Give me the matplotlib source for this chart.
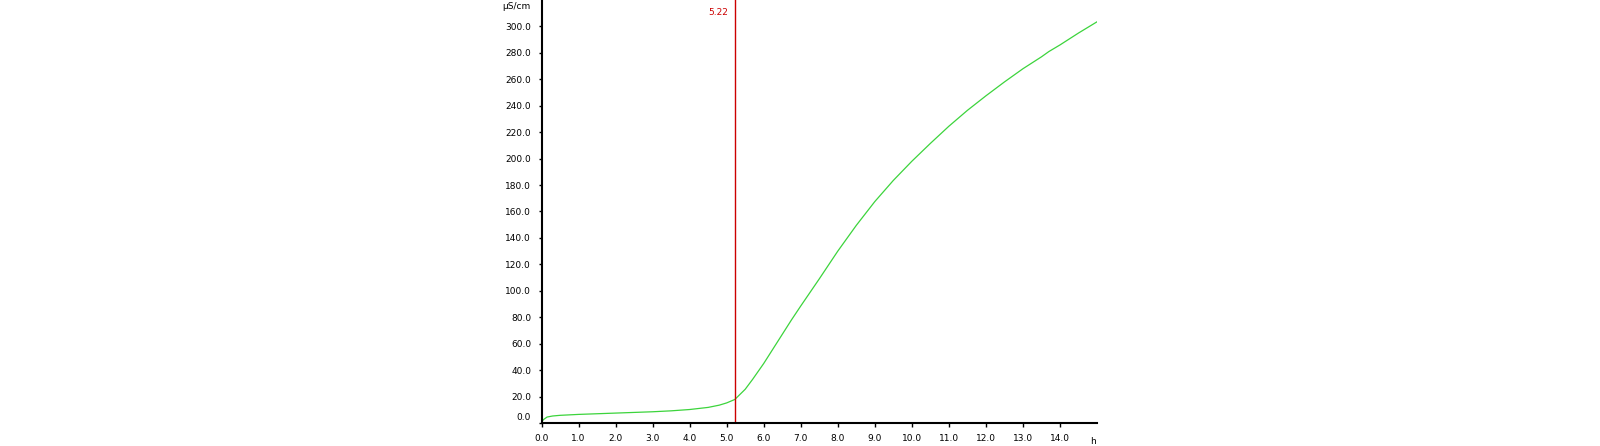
import matplotlib
matplotlib.use('Agg')
import matplotlib.pyplot as plt
import matplotlib.transforms as mtransforms

# conductivity over time
hours = [0, 0.05, 0.15, 0.3, 0.5, 1.0, 1.5, 2.0, 2.5, 3.0, 3.5, 4.0, 4.5, 4.8,
         5.0, 5.22, 5.5, 5.7, 6.0, 6.25, 6.5, 6.75, 7.0, 7.5, 8.0, 8.5, 9.0,
         9.5, 10.0, 10.5, 11.0, 11.5, 12.0, 12.5, 13.0, 13.5, 13.7, 14.0,
         14.5, 15.0]
cond = [0.5, 2.5, 4.5, 5.3, 5.8, 6.5, 7.0, 7.5, 8.0, 8.5, 9.2, 10.2, 11.8, 13.5,
        15.2, 17.8, 25.5, 33, 45, 56, 67, 78, 88.5, 109, 130, 149.5, 167.5,
        183.5, 198, 211.5, 224.5, 236.5, 247.5, 258, 268, 277, 281, 286,
        295, 303.5]
marker_x = 5.22
xticks = [i * 1.0 for i in range(15)]
yticks = [i * 20.0 for i in range(16)]

plt.rcParams['font.family'] = 'DejaVu Sans'
fs = 6.5

fig = plt.figure(figsize=(16, 4.46), dpi=100)
ax = fig.add_axes([541.5 / 1600, 23 / 446, (1097 - 541.5) / 1600, 423 / 446])

ax.plot(hours, cond, color='#3cd43c', lw=0.9)
ax.axvline(marker_x, color='#cc0000', lw=1.0)
ax.annotate('%.2f' % marker_x, xy=(marker_x, 1), xycoords=('data', 'axes fraction'),
            xytext=(-4.5, -9), textcoords='offset points', ha='right', va='center',
            color='#cc0000', fontsize=fs)

ax.set_xlim(0, 15)
ax.set_ylim(0, 320)
ax.set_xticks(xticks)
ax.set_xticklabels(['%.1f' % v for v in xticks])
ax.set_yticks(yticks)
ax.set_yticklabels(['%.1f' % v for v in yticks])

for s in ['top', 'right']:
    ax.spines[s].set_visible(False)
for s in ['left', 'bottom']:
    ax.spines[s].set_linewidth(1.5)
ax.tick_params(axis='y', direction='out', length=2.5, width=1, pad=5, labelsize=fs)
ax.tick_params(axis='x', direction='out', length=3, width=1, pad=5, labelsize=fs)

# lift the 0.0 label above the x axis
lbl0 = ax.get_yticklabels()[0]
lbl0.set_transform(lbl0.get_transform() + mtransforms.ScaledTranslation(0, 4.5 / 72, fig.dpi_scale_trans))

ax.annotate('\u03bcS/cm', xy=(0, 1), xycoords='axes fraction', xytext=(-8, -5),
            textcoords='offset points', ha='right', va='center', fontsize=fs)
ax.annotate('h', xy=(1, 0), xycoords='axes fraction', xytext=(-3, -13),
            textcoords='offset points', ha='center', va='center', fontsize=fs)

plt.savefig('out.png', dpi=100)
